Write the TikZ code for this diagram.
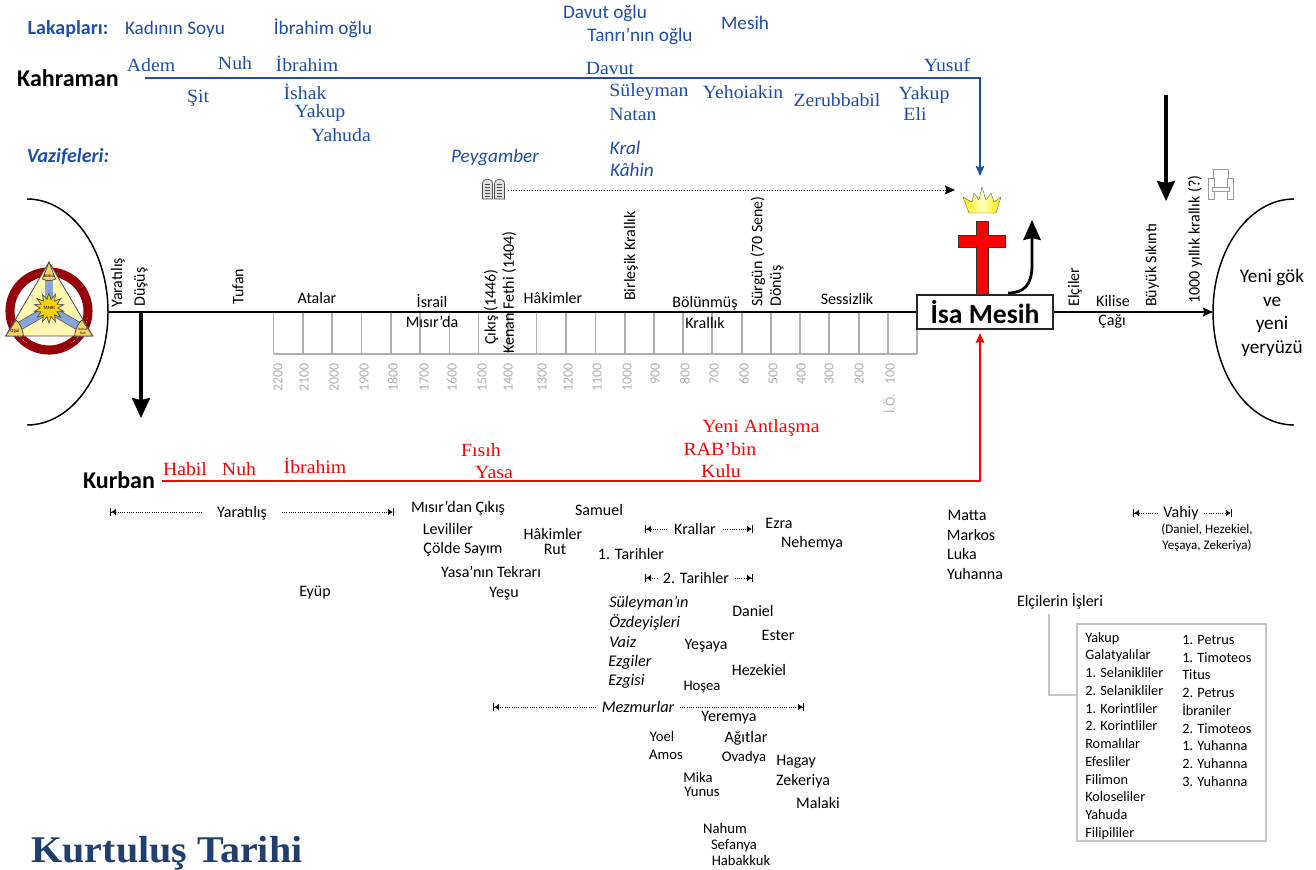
\documentclass[tikz,border=0pt]{standalone}
\usepackage{fontspec}
\setmainfont{Carlito}
\newfontfamily\cambria[FakeStretch=1.06]{Liberation Serif}
\usetikzlibrary{arrows.meta,shapes.geometric}
\definecolor{heroblue}{RGB}{30,78,165}
\definecolor{titleblue}{RGB}{31,64,110}
\definecolor{ringred}{RGB}{150,0,10}
\definecolor{logoyellow}{RGB}{255,247,175}
\definecolor{logogold}{RGB}{247,212,105}
\definecolor{logoblue}{RGB}{135,165,220}
\definecolor{yeargray}{RGB}{175,175,175}
\tikzset{
    bodytext/.style={font=\fontsize{12}{14}\selectfont},
    smalltext/.style={font=\fontsize{11}{13}\selectfont},
    italictext/.style={font=\fontsize{12.2}{14}\selectfont\itshape},
    hero/.style={font=\fontsize{18}{20}\selectfont\bfseries},
    namesans/.style={font=\fontsize{14.4}{16}\selectfont, text=heroblue},
    namesansit/.style={font=\fontsize{14.4}{16}\selectfont\itshape, text=heroblue},
    nameblue/.style={font=\fontsize{14}{16}\cambria, text=heroblue},
    namered/.style={font=\fontsize{14}{16}\cambria, text=red},
    headblue/.style={font=\fontsize{15}{17}\selectfont\bfseries, text=heroblue},
    headblueit/.style={font=\fontsize{15}{17}\selectfont\bfseries\itshape, text=heroblue},
    upright/.style={bodytext, rotate=90, anchor=west},
    yearlabel/.style={font=\fontsize{10.5}{12}\selectfont, text=yeargray, rotate=90, anchor=east},
    yeartick/.style={yeargray, line width=0.8pt},
    bigarrow/.style={line width=2.3pt, -{Stealth[length=15pt, width=13.5pt, inset=1.5pt]}},
    thinarrow/.style={line width=0.9pt, -{Stealth[length=7.5pt, width=6.5pt, inset=1pt]}},
    span/.style={dash pattern=on 0.6pt off 1.1pt, line width=0.5pt, -{Latex[length=3.5pt, width=5pt] Bar[width=5.5pt, line width=1pt]}},
    boxline/.style={draw=gray!45, line width=0.8pt},
    logoline/.style={draw=black!70, line width=0.6pt},
    logotext/.style={font=\fontsize{3.6}{4}\selectfont}
}
\begin{document}
\begin{tikzpicture}[x=0.75pt, y=-0.75pt, every node/.style={inner sep=0pt}]
        \useasboundingbox (0, 0) rectangle (1316, 869);

        \draw[line width=1.1pt] (27, 199) arc[start angle=-90, end angle=90, x radius=81, y radius=113];
        \draw[line width=1.1pt] (1294, 199) arc[start angle=270, end angle=90, x radius=81, y radius=113];

        \draw[yeartick] (273.5, 312) -- (273.5, 354); \node (y2200) at (278, 363) [yearlabel] {2200};
        \draw[yeartick] (303, 312) -- (303, 354); \node (y2100) at (304, 363) [yearlabel] {2100};
        \draw[yeartick] (332, 312) -- (332, 354); \node (y2000) at (334, 363) [yearlabel] {2000};
        \draw[yeartick] (361.5, 312) -- (361.5, 354); \node (y1900) at (364, 363) [yearlabel] {1900};
        \draw[yeartick] (391, 312) -- (391, 354); \node (y1800) at (393, 363) [yearlabel] {1800};
        \draw[yeartick] (420, 312) -- (420, 354); \node (y1700) at (424, 363) [yearlabel] {1700};
        \draw[yeartick] (449.5, 312) -- (449.5, 354); \node (y1600) at (452, 363) [yearlabel] {1600};
        \draw[yeartick] (478.7, 312) -- (478.7, 354); \node (y1500) at (482, 363) [yearlabel] {1500};
        \draw[yeartick] (508, 312) -- (508, 354); \node (y1400) at (508, 363) [yearlabel] {1400};
        \draw[yeartick] (536.7, 312) -- (536.7, 354); \node (y1300) at (542, 363) [yearlabel] {1300};
        \draw[yeartick] (566, 312) -- (566, 354); \node (y1200) at (568, 363) [yearlabel] {1200};
        \draw[yeartick] (595.3, 312) -- (595.3, 354); \node (y1100) at (597, 363) [yearlabel] {1100};
        \draw[yeartick] (625, 312) -- (625, 354); \node (y1000) at (627, 363) [yearlabel] {1000};
        \draw[yeartick] (654, 312) -- (654, 354); \node (y900) at (655, 363) [yearlabel] {900};
        \draw[yeartick] (683, 312) -- (683, 354); \node (y800) at (685, 363) [yearlabel] {800};
        \draw[yeartick] (712, 312) -- (712, 354); \node (y700) at (714, 363) [yearlabel] {700};
        \draw[yeartick] (742, 312) -- (742, 354); \node (y600) at (744, 363) [yearlabel] {600};
        \draw[yeartick] (771, 312) -- (771, 354); \node (y500) at (773, 363) [yearlabel] {500};
        \draw[yeartick] (800, 312) -- (800, 354); \node (y400) at (801, 363) [yearlabel] {400};
        \draw[yeartick] (829, 312) -- (829, 354); \node (y300) at (829, 363) [yearlabel] {300};
        \draw[yeartick] (859, 312) -- (859, 354); \node (y200) at (859, 363) [yearlabel] {200};
        \draw[yeartick] (888, 312) -- (888, 354); \node (y100) at (889, 363) [yearlabel] {İ.Ö.\ \ \ 100};
        \draw[yeartick] (917, 312) -- (917, 354);
        \draw[yeartick] (273.5, 354) -- (917, 354);

        \node (isa) at (985, 312) [draw=black!85, fill=white, line width=1.3pt, minimum width=102pt, minimum height=26pt, font=\fontsize{20.7}{23}\selectfont\bfseries] {İsa Mesih};
        \coordinate (lineleft) at (108, 312);
        \coordinate (lineright) at (1213, 312);
        \draw[line width=1.2pt] (lineleft) -- (isa.west);
        \draw[thinarrow] (isa.east) -- (lineright);

        \node (lakap) at (68, 29) [headblue] {Lakapları:};
        \node (vazife) at (68, 157) [headblueit] {Vazifeleri:};
        \node (soy) at (175, 29) [namesans] {Kadının Soyu};
        \node (ioglu) at (323, 28) [namesans] {İbrahim oğlu};
        \node (doglu) at (605, 13) [namesans] {Davut oğlu};
        \node (toglu) at (640, 36) [namesans] {Tanrı’nın oğlu};
        \node (mesih) at (745, 23) [namesans] {Mesih};

        \node (kahraman) at (68, 78) [hero] {Kahraman};
        \node (adem) at (151, 65) [nameblue] {Adem};
        \node (nuhb) at (235, 63) [nameblue] {Nuh};
        \node (ibrb) at (307, 64) [nameblue] {İbrahim};
        \node (davut) at (610, 68) [nameblue] {Davut};
        \node (yusuf) at (947, 65) [nameblue] {Yusuf};
        \node (sit) at (198, 98) [nameblue] {Şit};
        \node (ishak) at (305, 92) [nameblue] {İshak};
        \node (yakupa) at (320, 113) [nameblue] {Yakup};
        \node (yahuda) at (341, 135) [nameblue] {Yahuda};
        \node (suleyman) at (649, 92) [nameblue] {Süleyman};
        \node (natan) at (633, 114) [nameblue] {Natan};
        \node (yehoiakin) at (743, 92) [nameblue] {Yehoiakin};
        \node (zerub) at (837, 100) [nameblue] {Zerubbabil};
        \node (yakupb) at (924, 95) [nameblue] {Yakup};
        \node (eli) at (915, 114) [nameblue] {Eli};
        \node (peygamber) at (495, 157) [namesansit] {Peygamber};
        \node (kral) at (625, 148) [namesansit] {Kral};
        \node (kahin) at (632, 170) [namesansit] {Kâhin};

        \coordinate (herostart) at (145, 78);
        \coordinate (herocorner) at (980, 78);
        \coordinate (crowntop) at (980, 176);
        \draw[thinarrow, heroblue] (herostart) -- (herocorner) -- (crowntop);

        \draw[draw=black!70, fill=gray!25, line width=0.5pt] (482.5, 199) -- (482.5, 184) .. controls (482.5, 177.5) and (492.5, 177.5) .. (492.5, 184) -- (492.5, 199) -- cycle;
        \draw[draw=black!70, fill=gray!25, line width=0.5pt] (494.5, 199) -- (494.5, 184) .. controls (494.5, 177.5) and (504.5, 177.5) .. (504.5, 184) -- (504.5, 199) -- cycle;
        \draw[black!70, line width=0.5pt] (485, 184) -- (490, 184); \draw[black!70, line width=0.5pt] (485, 187) -- (490, 187);
        \draw[black!70, line width=0.5pt] (485, 190) -- (490, 190); \draw[black!70, line width=0.5pt] (485, 193) -- (490, 193);
        \draw[black!70, line width=0.5pt] (485, 196) -- (490, 196);
        \draw[black!70, line width=0.5pt] (497, 184) -- (502, 184); \draw[black!70, line width=0.5pt] (497, 187) -- (502, 187);
        \draw[black!70, line width=0.5pt] (497, 190) -- (502, 190); \draw[black!70, line width=0.5pt] (497, 193) -- (502, 193);
        \draw[black!70, line width=0.5pt] (497, 196) -- (502, 196);
        \coordinate (bookright) at (508, 190);
        \coordinate (crownleft) at (955, 190);
        \draw[dash pattern=on 0.6pt off 1.4pt, line width=0.6pt, -{Stealth[length=7.5pt, width=6.5pt, inset=1pt]}] (bookright) -- (crownleft);

        \draw[draw=black!60, line width=0.3pt, left color=yellow!85!orange, right color=yellow!85!orange, middle color=yellow!25] (969, 213) -- (963, 197) -- (972, 202) -- (974, 193) -- (979, 200) -- (982, 187) -- (986, 200) -- (991, 193) -- (994, 202) -- (1001, 197) -- (996, 213) -- cycle;
        \draw[draw=black!80, fill=red, line width=0.4pt] (976, 221) -- (988, 221) -- (988, 235) -- (1005, 235) -- (1005, 247) -- (988, 247) -- (988, 294) -- (976, 294) -- (976, 247) -- (958, 247) -- (958, 235) -- (976, 235) -- cycle;
        \coordinate (curvestart) at (1008, 293);
        \coordinate (curveend) at (1032, 220);
        \draw[line width=2.1pt, -{Stealth[length=15pt, width=13pt, inset=1.5pt]}] (curvestart) .. controls (1024, 293) and (1032, 285) .. (1032, 265) -- (curveend);

        \coordinate (fallstart) at (141, 312);
        \coordinate (fallend) at (141, 418);
        \draw[bigarrow] (fallstart) -- (fallend);
        \coordinate (troublestart) at (1166, 95);
        \coordinate (troubleend) at (1166, 201);
        \draw[bigarrow] (troublestart) -- (troubleend);

        \draw[draw=gray!80, fill=white, line width=0.6pt] (1213.5, 187) rectangle (1228, 169);
        \draw[draw=gray!80, fill=white, line width=0.6pt] (1208.5, 199) rectangle (1214.5, 178);
        \draw[draw=gray!80, fill=white, line width=0.6pt] (1227, 199) rectangle (1233, 178);
        \draw[draw=gray!80, fill=white, line width=0.6pt] (1212, 191) rectangle (1229.5, 187);

        \node (yaratilis) at (118, 308) [upright] {Yaratılış};
        \node (dusus) at (141, 307) [upright] {Düşüş};
        \node (tufan) at (238, 305) [upright] {Tufan};
        \node (atalar) at (317, 298) [bodytext] {Atalar};
        \node (israil) at (432, 301) [bodytext] {İsrail};
        \node (misirda) at (432, 322) [bodytext] {Mısır’da};
        \node (cikis) at (491, 345) [upright] {Çıkış (1446)};
        \node (kenan) at (509, 354) [upright] {Kenan Fethi (1404)};
        \node (hakimler) at (553, 298) [bodytext] {Hâkimler};
        \node (birlesik) at (631, 301) [upright] {Birleşik Krallık};
        \node (bolunmus) at (705, 303) [bodytext] {Bölünmüş};
        \node (krallik) at (705, 323) [bodytext] {Krallık};
        \node (surgun) at (758, 307) [upright] {Sürgün (70 Sene)};
        \node (donus) at (777, 307) [upright] {Dönüş};
        \node (sessizlik) at (847, 299) [bodytext] {Sessizlik};
        \node (elciler) at (1075, 307) [upright] {Elçiler};
        \node (kilise) at (1113, 301) [bodytext] {Kilise};
        \node (cagi) at (1112, 321) [bodytext] {Çağı};
        \node (sikinti) at (1152, 307) [upright] {Büyük Sıkıntı};
        \node (bin) at (1195, 304) [upright] {1000 yıllık krallık (?)};
        \node (yenigok) at (1272, 313) [align=center, font=\fontsize{14.4}{17.8}\selectfont] {Yeni gök\\ve\\yeni\\yeryüzü};

        \node (antlasma) at (761, 428) [namered] {Yeni Antlaşma};
        \node (rabbin) at (720, 449) [namered] {RAB’bin};
        \node (kulu) at (721, 471) [namered] {Kulu};
        \node (fisih) at (481, 450) [namered] {Fısıh};
        \node (yasa) at (494, 472) [namered] {Yasa};
        \node (habil) at (185, 469) [namered] {Habil};
        \node (nuhr) at (239, 469) [namered] {Nuh};
        \node (ibrr) at (315, 466) [namered] {İbrahim};
        \node (kurban) at (119, 480) [hero] {Kurban};
        \coordinate (redstart) at (162, 481);
        \coordinate (redcorner) at (980, 481);
        \coordinate (isabottom) at (980, 333);
        \draw[thinarrow, red] (redstart) -- (redcorner) -- (isabottom);

        \node (yaratilisb) at (242, 513) [bodytext, inner xsep=11pt] {Yaratılış};
        \coordinate (yarleft) at (110, 512);
        \coordinate (yarright) at (394, 512);
        \draw[span] (yaratilisb.west |- yarleft) -- (yarleft);
        \draw[span] (yaratilisb.east |- yarright) -- (yarright);
        \node (krallar) at (695, 529) [bodytext, inner xsep=5pt] {Krallar};
        \coordinate (kraleft) at (645, 529);
        \coordinate (kraright) at (753, 529);
        \draw[span] (krallar.west) -- (kraleft);
        \draw[span] (krallar.east) -- (kraright);
        \node (tarihb) at (696, 578) [bodytext, inner xsep=4pt] {2. Tarihler};
        \coordinate (tarleft) at (645, 578);
        \coordinate (tarright) at (753, 578);
        \draw[span] (tarihb.west) -- (tarleft);
        \draw[span] (tarihb.east) -- (tarright);
        \node (mezmurlar) at (638, 707) [italictext, inner xsep=4pt] {Mezmurlar};
        \coordinate (mezleft) at (493, 707);
        \coordinate (mezright) at (804, 707);
        \draw[span] (mezmurlar.west) -- (mezleft);
        \draw[span] (mezmurlar.east) -- (mezright);
        \node (vahiy) at (1181, 513) [bodytext, inner xsep=4pt] {Vahiy};
        \coordinate (vahleft) at (1133, 513);
        \coordinate (vahright) at (1232, 513);
        \draw[span] (vahiy.west) -- (vahleft);
        \draw[span] (vahiy.east) -- (vahright);
        \node (vahiyalt) at (1207, 538) [align=center, font=\fontsize{9.8}{11.7}\selectfont] {(Daniel, Hezekiel,\\Yeşaya, Zekeriya)};

        \node (misirdan) at (458, 508) [bodytext] {Mısır’dan Çıkış};
        \node (leviliier) at (448, 529) [bodytext] {Levililer};
        \node (colde) at (463, 549) [bodytext] {Çölde Sayım};
        \node (tekrari) at (491, 572) [bodytext] {Yasa’nın Tekrarı};
        \node (yesu) at (504, 594) [bodytext] {Yeşu};
        \node (eyup) at (315, 592) [bodytext] {Eyüp};
        \node (samuel) at (599, 510) [bodytext] {Samuel};
        \node (hakimlerb) at (553, 534) [bodytext] {Hâkimler};
        \node (rut) at (555, 549) [bodytext] {Rut};
        \node (tarihbir) at (631, 554) [bodytext] {1. Tarihler};
        \node (ezra) at (779, 523.5) [bodytext] {Ezra};
        \node (nehemya) at (812, 543) [bodytext] {Nehemya};
        \node (ozdeyis) at (609, 603) [italictext, anchor=west] {Süleyman’ın};
        \node (ozdeyisb) at (609, 622) [italictext, anchor=west] {Özdeyişleri};
        \node (vaiz) at (609, 642) [italictext, anchor=west] {Vaiz};
        \node (ezgiler) at (608, 662) [italictext, anchor=west] {Ezgiler};
        \node (ezgisi) at (608, 681) [italictext, anchor=west] {Ezgisi};
        \node (daniel) at (753, 611) [bodytext] {Daniel};
        \node (ester) at (778, 635) [bodytext] {Ester};
        \node (yesaya) at (706, 646) [bodytext] {Yeşaya};
        \node (hezekiel) at (759, 670) [bodytext] {Hezekiel};
        \node (hosea) at (702, 687) [smalltext] {Hoşea};
        \node (yeremya) at (729, 718) [bodytext] {Yeremya};
        \node (yoel) at (662, 736) [smalltext] {Yoel};
        \node (agitlar) at (746, 738) [bodytext] {Ağıtlar};
        \node (amos) at (666, 755) [smalltext] {Amos};
        \node (ovadya) at (744, 758) [smalltext] {Ovadya};
        \node (hagay) at (796, 762) [bodytext] {Hagay};
        \node (mika) at (698, 777) [smalltext] {Mika};
        \node (zekeriya) at (803, 781) [bodytext] {Zekeriya};
        \node (yunus) at (702, 792) [smalltext] {Yunus};
        \node (malaki) at (818, 803) [bodytext] {Malaki};
        \node (nahum) at (725, 828) [smalltext] {Nahum};
        \node (sefanya) at (734, 846) [smalltext] {Sefanya};
        \node (habakkuk) at (741, 860) [smalltext] {Habakkuk};
        \node (matta) at (967, 515) [bodytext] {Matta};
        \node (markos) at (971, 535) [bodytext] {Markos};
        \node (luka) at (962, 554) [bodytext] {Luka};
        \node (yuhanna) at (975, 574) [bodytext] {Yuhanna};
        \node (isleri) at (1060, 601) [bodytext] {Elçilerin İşleri};

        \coordinate (isleridown) at (1049, 614);
        \coordinate (boxelbow) at (1049, 695);
        \coordinate (boxleft) at (1077, 695);
        \draw[boxline] (isleridown) -- (boxelbow) -- (boxleft);
        \draw[boxline] (1077, 624) rectangle (1266, 841);
        \node (mektupa) at (1085, 632) [anchor=north west, align=left, font=\fontsize{10.7}{13.3}\selectfont] {Yakup\\Galatyalılar\\1. Selanikliler\\2. Selanikliler\\1. Korintliler\\2. Korintliler\\Romalılar\\Efesliler\\Filimon\\Koloseliler\\Yahuda\\Filipililer};
        \node (mektupb) at (1182, 635) [anchor=north west, align=left, font=\fontsize{10.7}{13.3}\selectfont] {1. Petrus\\1. Timoteos\\Titus\\2. Petrus\\İbraniler\\2. Timoteos\\1. Yuhanna\\2. Yuhanna\\3. Yuhanna};

        \node (baslik) at (167, 853) [font=\fontsize{28.3}{30}\cambria\bfseries, text=titleblue] {Kurtuluş Tarihi};

        \draw[ringred, line width=6.8pt] (49, 311) circle[radius=39];
        \draw[white, densely dotted, line width=0.4pt] (49, 311) ++(125:39) arc[start angle=125, end angle=165, radius=39];
        \draw[white, densely dotted, line width=0.4pt] (49, 311) ++(10:39) arc[start angle=10, end angle=55, radius=39];
        \draw[white, densely dotted, line width=0.4pt] (49, 311) ++(-105:39) arc[start angle=-105, end angle=-75, radius=39];
        \draw[logoline, fill=logoyellow] (49, 262) -- (92.7, 336) -- (5.7, 336) -- cycle;
        \draw[black!70, line width=6.4pt] (49, 279) -- (49, 305);
        \draw[logoblue, line width=5.4pt] (49, 279) -- (49, 305);
        \draw[black!70, line width=6.4pt] (18, 327) -- (49, 309);
        \draw[logoblue, line width=5.4pt] (18, 327) -- (49, 309);
        \draw[black!70, line width=6.4pt] (80, 327) -- (49, 309);
        \draw[logoblue, line width=5.4pt] (80, 327) -- (49, 309);
        \draw[logoline, fill=logogold] (49, 262) -- (55.5, 279) .. controls (52, 281) and (46, 281) .. (42.5, 279) -- cycle;
        \draw[logoline, fill=logogold] (5.7, 336) -- (16, 320) .. controls (19, 322) and (23, 329) .. (23.5, 336) -- cycle;
        \draw[logoline, fill=logogold] (92.7, 336) -- (82, 320) .. controls (79, 322) and (75, 329) .. (74.5, 336) -- cycle;
        \node (tanri) at (49, 308) [star, star points=14, star point ratio=1.7, minimum size=22.5pt, draw=black!70, line width=0.5pt, fill=yellow!70!orange, logotext] {TANRI};
        \node (baba) at (49, 275.5) [logotext] {Baba};
        \node (ogul) at (15, 331) [logotext] {Oğul};
        \node (ruh) at (83, 331) [align=center, font=\fontsize{2.6}{2.8}\selectfont] {Kutsal\\Ruh};
    \end{tikzpicture}
\end{document}
